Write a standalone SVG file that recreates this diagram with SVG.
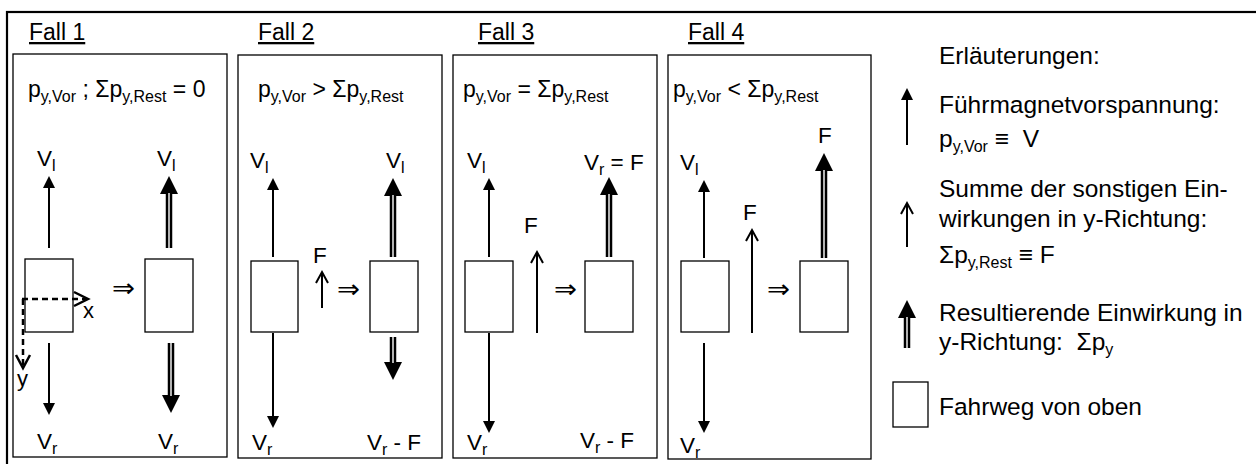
<svg xmlns="http://www.w3.org/2000/svg" width="1256" height="464" viewBox="0 0 1256 464">
<style>
text{font-family:"Liberation Sans","DejaVu Sans",Arial,sans-serif;fill:#000}
.t{font-size:23px}
.v{font-size:22.5px}
.xy{font-size:22px}
.h{font-size:23px;text-decoration:underline}
.lg{font-size:24.5px}
.s{font-size:16px}
.ls{font-size:16px}
.imp{font-size:26px;font-family:"DejaVu Sans",sans-serif}
.frame{fill:none;stroke:#000;stroke-width:1.3}
.box{fill:#fff;stroke:#000;stroke-width:1.3}
.ar{stroke:#000;stroke-width:2;fill:none}
.dbl{stroke:#000;stroke-width:6.5;fill:none}
.gap{stroke:#fff;stroke-width:1.4;fill:none}
.ax{stroke:#000;stroke-width:2.5;fill:none;stroke-dasharray:6 4}
.chev{stroke:#000;stroke-width:2.5;fill:none}
</style>
<defs>
<marker id="hs" markerUnits="userSpaceOnUse" viewBox="0 0 12 12" markerWidth="12" markerHeight="12" refX="2" refY="6" orient="auto"><path d="M0,0L12,6L0,12z" fill="#000"/></marker>
<marker id="ho" markerUnits="userSpaceOnUse" viewBox="-2 -2 16 16" markerWidth="16" markerHeight="16" refX="11" refY="6" orient="auto"><path d="M0,0L11,6L0,12" fill="none" stroke="#000" stroke-width="2"/></marker>
<marker id="hb" markerUnits="userSpaceOnUse" viewBox="0 0 18 18" markerWidth="18" markerHeight="18" refX="2" refY="9" orient="auto"><path d="M0,0L18,9L0,18z" fill="#000"/></marker>
</defs>

<rect x="7" y="12" width="1262" height="470" fill="none" stroke="#000" stroke-width="2.2"/>

<g id="fall1">
<rect class="frame" x="13" y="54" width="214" height="403"/>
<text class="h" x="29" y="40">Fall 1</text>
<text class="t" x="28" y="97">p<tspan class="s" dy="5">y,Vor</tspan><tspan dy="-5"> ; Σp</tspan><tspan class="s" dy="5">y,Rest</tspan><tspan dy="-5"> = 0</tspan></text>
<text class="v" x="37" y="166">V<tspan class="s" dy="5">l</tspan></text>
<text class="v" x="157" y="166">V<tspan class="s" dy="5">l</tspan></text>
<rect class="box" x="25" y="259" width="48" height="73"/>
<rect class="box" x="145" y="259" width="48" height="73"/>
<text class="imp" x="112" y="297" textLength="23" lengthAdjust="spacingAndGlyphs">⇒</text>
<text class="xy" x="83" y="318">x</text>
<text class="xy" x="17" y="386">y</text>
<text class="v" x="37" y="449">V<tspan class="s" dy="5">r</tspan></text>
<text class="v" x="158" y="449">V<tspan class="s" dy="5">r</tspan></text>
</g>

<g id="fall2">
<rect class="frame" x="238" y="55" width="204" height="403"/>
<text class="h" x="258" y="40">Fall 2</text>
<text class="t" x="258" y="97">p<tspan class="s" dy="5">y,Vor</tspan><tspan dy="-5"> &gt; Σp</tspan><tspan class="s" dy="5">y,Rest</tspan></text>
<text class="v" x="250" y="168">V<tspan class="s" dy="5">l</tspan></text>
<text class="v" x="386" y="168">V<tspan class="s" dy="5">l</tspan></text>
<rect class="box" x="251" y="261" width="47" height="71"/>
<rect class="box" x="370" y="261" width="48" height="71"/>
<text class="v" x="313" y="263">F</text>
<text class="imp" x="337" y="298" textLength="23" lengthAdjust="spacingAndGlyphs">⇒</text>
<text class="v" x="252" y="450">V<tspan class="s" dy="5">r</tspan></text>
<text class="v" x="367" y="450">V<tspan class="s" dy="5">r</tspan><tspan dy="-5"> - F</tspan></text>
</g>

<g id="fall3">
<rect class="frame" x="453" y="55" width="204" height="403"/>
<text class="h" x="478" y="40">Fall 3</text>
<text class="t" x="463" y="97">p<tspan class="s" dy="5">y,Vor</tspan><tspan dy="-5"> = Σp</tspan><tspan class="s" dy="5">y,Rest</tspan></text>
<text class="v" x="467" y="168">V<tspan class="s" dy="5">l</tspan></text>
<text class="v" x="584" y="170">V<tspan class="s" dy="5">r</tspan><tspan dy="-5"> = F</tspan></text>
<rect class="box" x="465" y="261" width="48" height="71"/>
<rect class="box" x="585" y="261" width="48" height="71"/>
<text class="v" x="524" y="233">F</text>
<text class="imp" x="554" y="298" textLength="23" lengthAdjust="spacingAndGlyphs">⇒</text>
<text class="v" x="467" y="450">V<tspan class="s" dy="5">r</tspan></text>
<text class="v" x="580" y="448">V<tspan class="s" dy="5">r</tspan><tspan dy="-5"> - F</tspan></text>
</g>

<g id="fall4">
<rect class="frame" x="668" y="55" width="203" height="404"/>
<text class="h" x="688" y="40">Fall 4</text>
<text class="t" x="673" y="97">p<tspan class="s" dy="5">y,Vor</tspan><tspan dy="-5"> &lt; Σp</tspan><tspan class="s" dy="5">y,Rest</tspan></text>
<text class="v" x="818" y="143">F</text>
<text class="v" x="680" y="170">V<tspan class="s" dy="5">l</tspan></text>
<text class="v" x="743" y="220">F</text>
<rect class="box" x="681" y="261" width="48" height="71"/>
<rect class="box" x="800" y="261" width="48" height="71"/>
<text class="imp" x="767" y="298" textLength="23" lengthAdjust="spacingAndGlyphs">⇒</text>
<text class="v" x="680" y="453">V<tspan class="s" dy="5">r</tspan></text>
</g>

<g id="legend">
<text class="lg" x="939" y="64">Erläuterungen:</text>
<text class="lg" x="939" y="113">Führmagnetvorspannung:</text>
<text class="lg" x="939" y="147">p<tspan class="ls" dy="5">y,Vor</tspan><tspan dy="-5"> ≡&#160; V</tspan></text>
<text class="lg" x="939" y="197">Summe der sonstigen Ein-</text>
<text class="lg" x="939" y="227">wirkungen in y-Richtung:</text>
<text class="lg" x="939" y="263">Σp<tspan class="ls" dy="5">y,Rest</tspan><tspan dy="-5"> ≡ F</tspan></text>
<text class="lg" x="939" y="321">Resultierende Einwirkung in</text>
<text class="lg" x="939" y="350">y-Richtung:&#160; Σp<tspan class="ls" dy="5">y</tspan></text>
<rect class="box" x="893" y="382" width="35" height="45"/>
<text class="lg" x="939" y="415">Fahrweg von oben</text>
</g>

<g id="connectors">
<line class="ar" x1="49" y1="248" x2="49" y2="186" marker-end="url(#hs)"/>
<line class="ar" x1="49" y1="343" x2="49" y2="405" marker-end="url(#hs)"/>
<line class="dbl" x1="169" y1="248" x2="169" y2="192" marker-end="url(#hb)"/>
<line class="gap" x1="169" y1="248" x2="169" y2="193"/>
<line class="dbl" x1="171" y1="343" x2="171" y2="397" marker-end="url(#hb)"/>
<line class="gap" x1="171" y1="343" x2="171" y2="396"/>
<line class="ax" x1="22" y1="299" x2="86" y2="299"/>
<polyline class="chev" points="74,292 88,299 74,306"/>
<line class="ax" x1="23" y1="299" x2="23" y2="366"/>
<polyline class="chev" points="16,355 23,368 30,355"/>
<line class="ar" x1="273" y1="257" x2="273" y2="188" marker-end="url(#hs)"/>
<line class="ar" x1="273" y1="333" x2="273" y2="418" marker-end="url(#hs)"/>
<line class="ar" x1="322" y1="308" x2="322" y2="272" marker-end="url(#ho)"/>
<line class="dbl" x1="393" y1="257" x2="393" y2="194" marker-end="url(#hb)"/>
<line class="gap" x1="393" y1="257" x2="393" y2="195"/>
<line class="dbl" x1="393" y1="337" x2="393" y2="364" marker-end="url(#hb)"/>
<line class="gap" x1="393" y1="337" x2="393" y2="363"/>
<line class="ar" x1="489" y1="257" x2="489" y2="188" marker-end="url(#hs)"/>
<line class="ar" x1="489" y1="333" x2="489" y2="423" marker-end="url(#hs)"/>
<line class="ar" x1="537" y1="333" x2="537" y2="252" marker-end="url(#ho)"/>
<line class="dbl" x1="609" y1="257" x2="609" y2="193" marker-end="url(#hb)"/>
<line class="gap" x1="609" y1="257" x2="609" y2="194"/>
<line class="ar" x1="704" y1="258" x2="704" y2="190" marker-end="url(#hs)"/>
<line class="ar" x1="704" y1="343" x2="704" y2="423" marker-end="url(#hs)"/>
<line class="ar" x1="752" y1="333" x2="752" y2="230" marker-end="url(#ho)"/>
<line class="dbl" x1="824" y1="258" x2="824" y2="169" marker-end="url(#hb)"/>
<line class="gap" x1="824" y1="258" x2="824" y2="170"/>
<line class="ar" x1="907" y1="145" x2="907" y2="98" marker-end="url(#hs)"/>
<line class="ar" x1="907" y1="247" x2="907" y2="203" marker-end="url(#ho)"/>
<line class="dbl" x1="907" y1="348" x2="907" y2="316" marker-end="url(#hb)"/>
<line class="gap" x1="907" y1="348" x2="907" y2="317"/>
</g>
</svg>
